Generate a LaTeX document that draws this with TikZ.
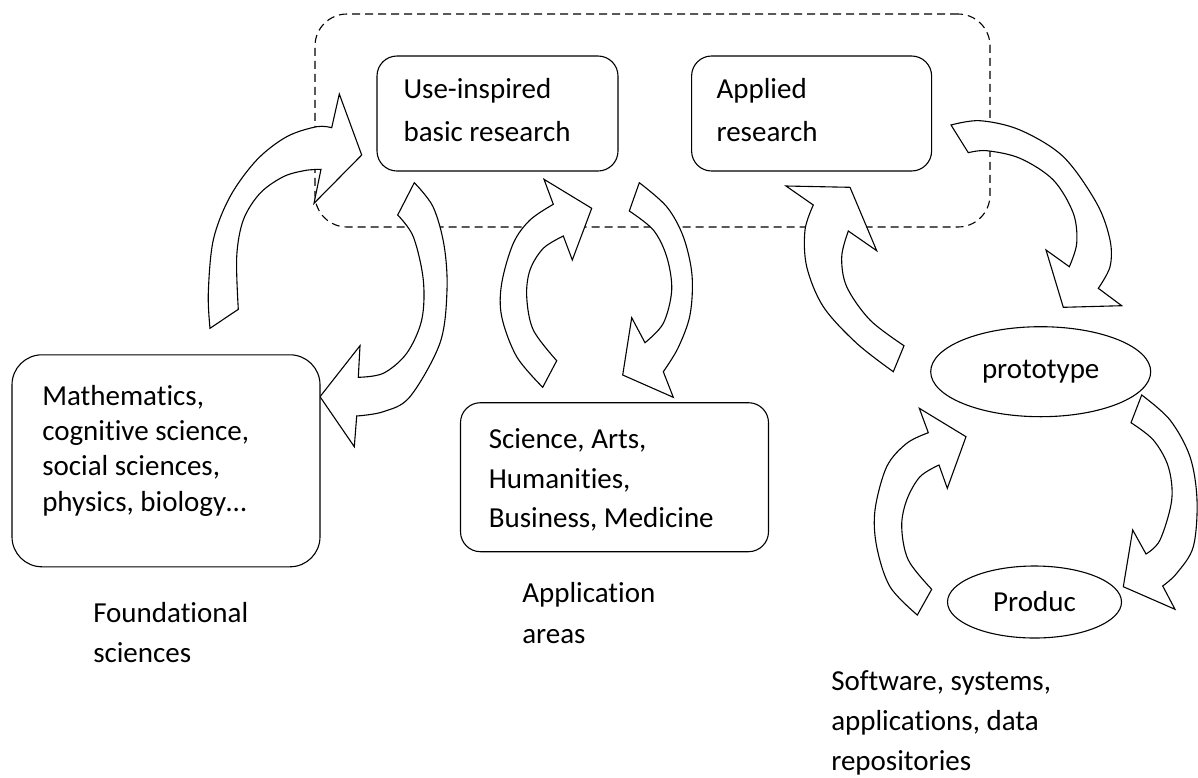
\documentclass[tikz,border=0pt]{standalone}
\usepackage{fontspec}
\setmainfont{Carlito}[Ligatures=NoCommon]
\usetikzlibrary{shapes.geometric}
\newcommand{\mlines}[1]{\vtop{\halign{##\hfil\cr#1\crcr}}}
\begin{document}
\begin{tikzpicture}[x=1pt,y=-1pt,
  line width=1.1pt, line join=miter,
  boxnode/.style={draw, rounded corners=20pt, fill=white, inner sep=0pt},
  ellnode/.style={draw, ellipse, fill=white, inner sep=0pt, font=\fontsize{29pt}{35pt}\selectfont},
  txt/.style={anchor=base west, inner sep=0pt},
  blockarrow/.style={draw, fill=white},
  grpbox/.style={draw, dash pattern=on 8pt off 5pt, rounded corners=32pt, inner sep=0pt}]
\useasboundingbox (0,0) rectangle (1198,777);

% dashed group
\node[grpbox, minimum width=675pt, minimum height=213pt] (grp) at (652.5,120.5) {};

% block arrows
% A: foundational -> use-inspired
\draw[blockarrow] plot[smooth, tension=0.55] coordinates {(210,328.3) (208.3,293.3) (213.3,240) (230,196.7) (256.7,160) (286.7,136.7) (316.7,126.7) (331.7,127.7)}
  -- (339.3,94) -- (361.7,155) -- (314,203.3) -- (321,169.3)
  -- plot[smooth, tension=0.55] coordinates {(321,169.3) (305,170.5) (283.3,176.7) (260,193.3) (243.3,220) (236.7,256.7) (238.3,309.3)} -- cycle;
% B: use-inspired -> foundational
\draw[blockarrow] plot[smooth, tension=0.55] coordinates {(414.3,182.7) (433,206.7) (444,245) (447,290) (440,343) (410,396.7) (383.3,411.7) (356.7,416)}
  -- (354.3,446.7) -- (320,396.7) -- (360,345.7) -- (358.3,377.3)
  -- plot[smooth, tension=0.55] coordinates {(358.3,377.3) (383.3,373.3) (406.7,353.3) (421.7,320) (423.3,280) (413.3,236.7) (397.7,215)} -- cycle;
% C: application -> use-inspired
\draw[blockarrow] plot[smooth, tension=0.55] coordinates {(542.7,387.3) (516.7,356.7) (501.7,316.7) (501.7,283.3) (513.3,243.3) (530,220) (553.3,204.3)}
  -- (544,179.3) -- (591.7,208.3) -- (572.3,260) -- (563.3,236)
  -- plot[smooth, tension=0.55] coordinates {(563.3,236) (543.3,248.3) (530,270) (526.7,296.7) (533.3,330) (556.7,360.7)} -- cycle;
% D: use-inspired -> application
\draw[blockarrow] plot[smooth, tension=0.55] coordinates {(639.3,182.7) (666.7,206.7) (683.3,236.7) (692,275) (690,315) (678,348) (663.3,371.7)}
  -- (673.3,397.3) -- (622.7,375) -- (631.7,317.7) -- (645,342.7)
  -- plot[smooth, tension=0.55] coordinates {(645,342.7) (663.3,323.3) (671.7,290) (666.7,256.7) (653.3,230) (629.3,211)} -- cycle;
% E: applied -> prototype
\draw[blockarrow] plot[smooth, tension=0.55] coordinates {(951,125) (980,120.7) (1020,130) (1063.3,156.7) (1096.7,203.3) (1110,240) (1110,266.7) (1098.3,288.3)}
  -- (1121.7,305.7) -- (1063.3,307.3) -- (1046,250) -- (1069.3,266.7)
  -- plot[smooth, tension=0.55] coordinates {(1069.3,266.7) (1076.7,243.3) (1073.3,213.3) (1053.3,180) (1020,158.3) (986.7,150.7) (968.3,152.7)} -- cycle;
% F: prototype -> applied
\draw[blockarrow] plot[smooth, tension=0.55] coordinates {(893.3,371.7) (856.7,343.3) (823.3,306.7) (806.7,266.7) (805,230) (813.3,205)}
  -- (786,186) -- (850,187.3) -- (876.7,250.7) -- (848.3,231)
  -- plot[smooth, tension=0.55] coordinates {(848.3,231) (841.7,256.7) (846.7,286.7) (870,320) (904,345.7)} -- cycle;
% G: product -> prototype
\draw[blockarrow] plot[smooth, tension=0.55] coordinates {(917.3,615) (890,586.7) (876.7,546.7) (875,510) (886.7,466.7) (906.7,443.3) (928.3,432.7)}
  -- (919.3,408.3) -- (966,436.7) -- (947.3,488.3) -- (939,465)
  -- plot[smooth, tension=0.55] coordinates {(939,465) (920,476.7) (906.7,500) (901.7,526.7) (908.3,560) (931.7,589.3)} -- cycle;
% H: prototype -> product
\draw[blockarrow] plot[smooth, tension=0.55] coordinates {(1141.7,395) (1170,420) (1190,456.7) (1197,500) (1193.3,546.7) (1176.7,573.3) (1162.7,586)}
  -- (1175,609.3) -- (1123.3,586.7) -- (1132.7,530) -- (1146,554)
  -- plot[smooth, tension=0.55] coordinates {(1146,554) (1160,540) (1171.7,500) (1168.3,466.7) (1153.3,440) (1131,422.7)} -- cycle;

% boxes
\node[boxnode, minimum width=241pt, minimum height=115pt] (uib) at (497.5,113.5) {};
\node[boxnode, minimum width=240pt, minimum height=115pt] (app) at (811.6,113.5) {};
\node[boxnode, rounded corners=30pt, minimum width=308pt, minimum height=212pt] (fnd) at (166,460.8) {};
\node[boxnode, minimum width=308pt, minimum height=149pt] (area) at (614.5,477.2) {};
\node[ellnode, minimum width=220pt, minimum height=90pt] (proto) at (1040.7,371.7) {prototype};
\node[ellnode, minimum width=174pt, minimum height=72pt] (prod) at (1034.5,602) {Produc};

% texts
\node[txt, font=\fontsize{29pt}{43.4pt}\selectfont] (uibt) at (403,98.3) {\mlines{Use-inspired\cr basic research}};
\node[txt, font=\fontsize{29pt}{43.4pt}\selectfont] (appt) at (716,98.3) {\mlines{Applied\cr research}};
\node[txt, font=\fontsize{29pt}{35.4pt}\selectfont] (fndt) at (41.7,405) {\mlines{Mathematics,\cr cognitive science,\cr social sciences,\cr physics, biology…}};
\node[txt, font=\fontsize{29pt}{39.7pt}\selectfont] (areat) at (488.3,448.3) {\mlines{Science, Arts,\cr Humanities,\cr Business, Medicine}};
\node[txt, font=\fontsize{29pt}{40pt}\selectfont] (fndl) at (92.7,622.7) {\mlines{Foundational\cr sciences}};
\node[txt, font=\fontsize{29pt}{40.6pt}\selectfont] (areal) at (521.7,602.7) {\mlines{Application\cr areas}};
\node[txt, font=\fontsize{29pt}{40pt}\selectfont] (prodl) at (830.7,690) {\mlines{Software, systems,\cr applications, data\cr repositories}};
\end{tikzpicture}
\end{document}
